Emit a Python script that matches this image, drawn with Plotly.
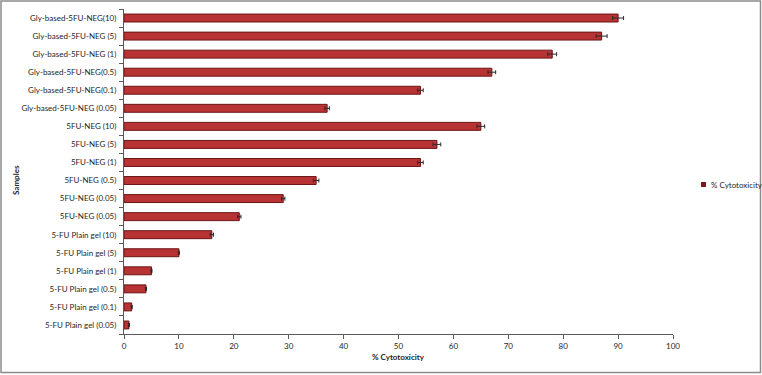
import plotly.graph_objects as go

# Data (listed top to bottom as in the chart)
samples = [
    "Gly-based-5FU-NEG(10)",
    "Gly-based-5FU-NEG (5)",
    "Gly-based-5FU-NEG (1)",
    "Gly-based-5FU-NEG(0.5)",
    "Gly-based-5FU-NEG(0.1)",
    "Gly-based-5FU-NEG (0.05)",
    "5FU-NEG (10)",
    "5FU-NEG (5)",
    "5FU-NEG (1)",
    "5FU-NEG (0.5)",
    "5FU-NEG (0.05)",
    "5FU-NEG (0.05)",
    "5-FU Plain gel (10)",
    "5-FU Plain gel (5)",
    "5-FU Plain gel (1)",
    "5-FU Plain gel (0.5)",
    "5-FU Plain gel (0.1)",
    "5-FU Plain gel (0.05)",
]
cytotoxicity = [90, 87, 78, 67, 54, 37, 65, 57, 54, 35, 29, 21, 16, 10, 5, 4, 1.4, 0.9]
errors = [1.0, 1.0, 0.8, 0.7, 0.5, 0.4, 0.7, 0.7, 0.5, 0.5, 0.3, 0.3, 0.3, 0.1, 0.1, 0.1, 0.1, 0.1]
x_ticks = [0, 10, 20, 30, 40, 50, 60, 70, 80, 90, 100]
series_name = "% Cytotoxicity"

n = len(samples)
positions = list(range(n))  # 0 = top row

W, H = 762, 375
ml, mr, mt, mb = 124, 89, 9, 41
pw, ph = W - ml - mr, H - mt - mb

font_family = "Lato, 'Liberation Sans', sans-serif"
text_color = "#1e1e1e"
bar_color = "#B83333"


def px_x(px):
    return (px - ml) / pw


def px_y(py):
    return 1 - (py - mt) / ph


fig = go.Figure()
fig.add_trace(go.Bar(
    x=cytotoxicity,
    y=positions,
    orientation="h",
    width=0.44,
    name=series_name,
    showlegend=False,
    hoverinfo="skip",
    marker=dict(color=bar_color, line=dict(color="#6B1515", width=1)),
    error_x=dict(type="data", array=errors, visible=True, color="#2a2a2a",
                 thickness=1, width=2),
))

fig.update_layout(
    template="none",
    width=W, height=H,
    margin=dict(l=ml, r=mr, t=mt, b=mb, autoexpand=False),
    paper_bgcolor="white",
    plot_bgcolor="white",
    font=dict(family=font_family, size=8, color=text_color),
    showlegend=False,
    hovermode=False,
    dragmode=False,
)

fig.update_xaxes(
    range=[0, 100],
    tickvals=x_ticks,
    ticktext=[str(v) for v in x_ticks],
    ticks="outside", ticklen=4, tickcolor="#595959", tickwidth=1,
    showline=True, linecolor="#595959", linewidth=1,
    showgrid=False, zeroline=False,
    tickfont=dict(size=8, color=text_color),
)
fig.update_yaxes(
    range=[n - 0.5, -0.5],
    tickmode="array",
    tickvals=positions,
    ticktext=samples,
    ticks="",
    ticklabelstandoff=5,
    minor=dict(tickmode="array", tickvals=[p - 0.5 for p in positions] + [n - 0.5],
               ticks="outside", ticklen=4, tickcolor="#595959", tickwidth=1, showgrid=False),
    showline=True, linecolor="#595959", linewidth=1,
    showgrid=False, zeroline=False,
    tickfont=dict(size=8, color=text_color),
)

# Axis titles as annotations
fig.add_annotation(
    text="<b>% Cytotoxicity</b>", xref="paper", yref="paper",
    x=0.5, y=px_y(357), showarrow=False,
    font=dict(size=8, color=text_color), xanchor="center", yanchor="middle",
)
fig.add_annotation(
    text="<b>Samples</b>", xref="paper", yref="paper",
    x=px_x(16), y=px_y(180), showarrow=False, textangle=-90,
    font=dict(size=8, color=text_color), xanchor="center", yanchor="middle",
)

# Legend (drawn manually to match the small key)
fig.add_shape(
    type="rect", xref="paper", yref="paper",
    x0=px_x(701), x1=px_x(706), y0=px_y(187), y1=px_y(182),
    line=dict(width=0), fillcolor="#7A1A1A",
)
fig.add_annotation(
    text=series_name, xref="paper", yref="paper",
    x=px_x(709), y=px_y(184.5), showarrow=False,
    font=dict(size=8, color=text_color), xanchor="left", yanchor="middle",
)

# Outer frame
fig.add_shape(
    type="rect", xref="paper", yref="paper",
    x0=px_x(1), x1=px_x(W - 1.5),
    y0=px_y(H - 2.5), y1=px_y(1),
    line=dict(color="#8c8c8c", width=1.5), fillcolor="rgba(0,0,0,0)", layer="below",
)

fig.write_html("out.html", config={"displayModeBar": False, "staticPlot": True},
               post_script="document.body.style.margin='0';")
